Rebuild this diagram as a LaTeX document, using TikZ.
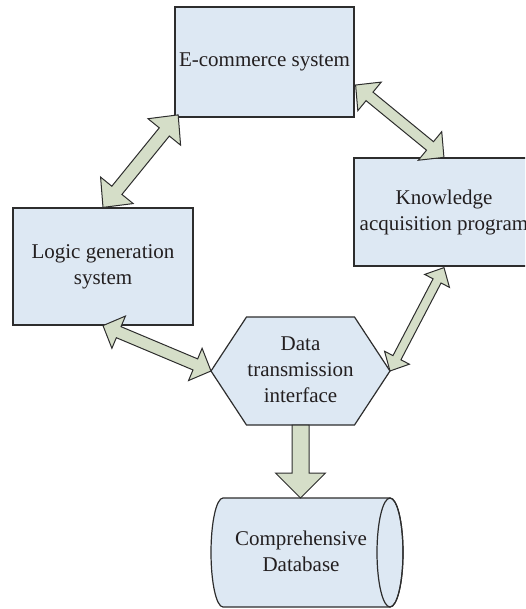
\documentclass[tikz,border=0pt]{standalone}
\usepackage{fontspec}
\setmainfont{Liberation Serif}
\usetikzlibrary{calc}

\definecolor{boxfill}{RGB}{221,232,243}
\definecolor{linkfill}{RGB}{213,222,200}
\definecolor{edgegray}{RGB}{45,45,45}
\definecolor{ink}{RGB}{35,31,32}

% angle and length of the segment between two named points
\newcommand\linkgeom[2]{%
  \path let \p1=(#1), \p2=(#2) in \pgfextra{%
    \pgfmathsetmacro\lkang{atan2(\y2-\y1,\x2-\x1)}%
    \pgfmathsetmacro\lklen{veclen(\x2-\x1,\y2-\y1)}%
    \global\let\lkang\lkang\global\let\lklen\lklen};}

% block arrow with heads at both ends: from, to, head length, head half width, shaft half width
\newcommand\fatlink[5]{%
  \linkgeom{#1}{#2}%
  \begin{scope}[shift={(#1)}, rotate=\lkang]
    \filldraw[linkarrow] (0,0) -- (#3,#4) -- (#3,#5) -- (\lklen-#3,#5) -- (\lklen-#3,#4)
      -- (\lklen,0) -- (\lklen-#3,-#4) -- (\lklen-#3,-#5) -- (#3,-#5) -- (#3,-#4) -- cycle;
  \end{scope}}

% block arrow with a single head at the far end
\newcommand\fatpush[5]{%
  \linkgeom{#1}{#2}%
  \begin{scope}[shift={(#1)}, rotate=\lkang]
    \filldraw[linkarrow] (0,#5) -- (\lklen-#3,#5) -- (\lklen-#3,#4) -- (\lklen,0)
      -- (\lklen-#3,-#4) -- (\lklen-#3,-#5) -- (0,-#5) -- cycle;
  \end{scope}}

\begin{document}
\begin{tikzpicture}[x=1pt, y=1pt,
  txt/.style={text=ink, align=center, font=\fontsize{21}{26}\selectfont, inner sep=0pt},
  block/.style={txt, draw=edgegray, line width=1.2pt, fill=boxfill},
  outline/.style={draw=edgegray, line width=1.2pt, fill=boxfill},
  linkarrow/.style={draw=edgegray, line width=1pt, fill=linkfill, line join=miter}]

\useasboundingbox (0,0) rectangle (525,-609);
\clip (0,0) rectangle (525,-609);

% rectangular blocks
\node[block, minimum width=179pt, minimum height=110pt] (ecom) at (264.5,-62) {E-commerce system};
\node[block, minimum width=180pt, minimum height=108pt] (kap) at (444,-212) {Knowledge\\acquisition program};
\node[block, minimum width=180pt, minimum height=117pt] (lgs) at (103,-266.5) {Logic generation\\system};

% hexagonal interface block
\coordinate (hexc) at (300.5,-371);
\draw[outline] ($(hexc)+(-89.5,0)$) coordinate (hexW)
  -- ($(hexc)+(-54,54)$) -- ($(hexc)+(54,54)$)
  -- ($(hexc)+(89.5,0)$) coordinate (hexE)
  -- ($(hexc)+(54,-54)$) -- ($(hexc)+(-54,-54)$) -- cycle;
\coordinate (hexS) at ($(hexc)+(0,-54)$);
\node[txt] (dti) at (300.5,-370) {Data\\transmission\\interface};

% database drum lying on its side
\draw[outline] (390,-498) -- (223,-498)
  arc[start angle=90, end angle=270, x radius=12pt, y radius=54.5pt]
  -- (390,-607)
  arc[start angle=-90, end angle=90, x radius=13pt, y radius=54.5pt] -- cycle;
\draw[edgegray, line width=1.2pt] (390,-552.5) ellipse [x radius=13pt, y radius=54.5pt];
\node[txt] (cdb) at (301,-551) {Comprehensive\\Database};
\coordinate (dbtop) at (300.5,-498);

% arrow end points
\coordinate (ecomSW) at ($(ecom.south west)+(4,3)$);
\coordinate (ecomR) at ($(ecom.east)+(1,-23)$);
\coordinate (kapS) at ($(kap.south)+(0,-1)$);

% connectors
\fatlink{lgs.north}{ecomSW}{22}{21}{6.5}
\fatlink{ecomR}{kap.north}{18}{18.5}{5.5}
\fatlink{lgs.south}{hexW}{17}{17.5}{6}
\fatlink{hexE}{kapS}{15}{14}{4.5}
\fatpush{hexS}{dbtop}{25}{25}{8.5}

\end{tikzpicture}
\end{document}
